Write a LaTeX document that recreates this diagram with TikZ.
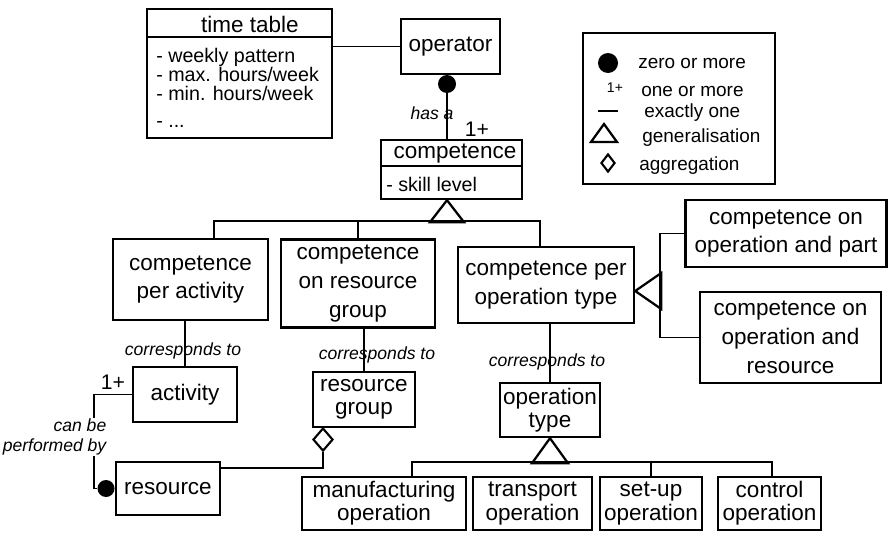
\documentclass[tikz,border=0pt]{standalone}
\usepackage{fontspec}
\setmainfont{Liberation Sans}
\usepackage{tikz}
\usetikzlibrary{shapes.geometric}
\newcommand{\upx}{0.025cm}
\newcommand{\clsfont}{\fontsize{16}{20.5}\selectfont}
\newcommand{\subfont}{\fontsize{16}{16.5}\selectfont}

\begin{document}
\begin{tikzpicture}[x=0.025cm, y=-0.025cm,
  cls/.style 2 args={draw, line width=1.7pt, inner sep=0pt, align=center,
    font=\clsfont, minimum width=#1*\upx, minimum height=#2*\upx},
  con/.style={line width=1.4pt},
  gen/.style={line width=1.6pt, line join=miter},
  ball/.style={circle, fill, inner sep=0pt, minimum size=#1*\upx},
  agg/.style 2 args={diamond, draw, line width=1.5pt, inner sep=0pt,
    minimum width=#1*\upx, minimum height=#2*\upx},
  note/.style={font=\fontsize{12.5}{14}\selectfont\itshape},
  mult/.style={font=\fontsize{15}{15}\selectfont},
  attr/.style={font=\fontsize{14}{13.5}\selectfont, align=left, inner sep=0pt},
  key/.style={font=\fontsize{13.5}{14}\selectfont, anchor=west, inner sep=0pt}]
  \useasboundingbox (0,0) rectangle (888,533);
   \coordinate (BarL) at (214,221);
   \coordinate (BarR) at (540,221);
   \coordinate (GenR) at (660,291);
   \coordinate (PerfX) at (94,440);
   \coordinate (AggBend) at (323,468);
   \coordinate (OpBarL) at (412,462);
   \coordinate (OpBarR) at (772,462);
  % upper classes
  \node[cls={185}{129}] (Tt) at (239.5,73.5) {};
  \node[font=\clsfont] (TtName) at (250,24) {time table};
  \node[attr, anchor=north west] (TtAttr) at (156,48)
       {- weekly pattern\\- max. hours/week\\- min. hours/week\\[6pt]- ...};
  \draw[line width=1.7pt] (Tt.north west) ++(0,29) -- ++(185,0);
  \node[cls={99}{55}] (Optr) at (450.5,46.5) {operator};
  \node[cls={141}{59}] (Comp) at (451.5,169.5) {};
  \node[font=\clsfont] (CompName) at (455,154) {competence};
  \node[attr, anchor=west] (CompAttr) at (386,184) {- skill level};
  \draw[line width=1.7pt] (Comp.north west) ++(0,27) -- ++(141,0);
  \node[cls={192}{151}] (Leg) at (679,108.5) {};
  % kinds of competence
  \node[cls={155}{81}] (Cact) at (190.5,279.5) {competence\\per activity};
  \node[cls={154}{88}] (Crg) at (358,283.5) {competence\\on resource\\group};
  \node[cls={176}{76}] (Cop) at (546,285) {competence per\\operation type};
  \node[cls={201}{67}] (Cpart) at (786,233.5) {competence on\\operation and part};
  \node[cls={181}{91}] (Cres) at (790.5,337.5) {competence on\\operation and\\resource};
  % lower classes
  \node[cls={104}{55}] (Act) at (185,394.5) {activity};
  \node[cls={102}{55}, font=\subfont] (Rg) at (364,399.5) {resource\\group};
  \node[cls={100}{54}, font=\subfont] (Ot) at (550,410) {operation\\type};
  \node[cls={104}{53}] (Res) at (168,488.5) {resource};
  \foreach \n/\x/\w/\t in {Mo/384/164/manufacturing,To/532.5/119/transport,%
                           So/651/102/set-up,Co/769.5/103/control}{%
    \node[cls={\w}{53}, font=\subfont] (\n) at (\x,503.5) {\t\\operation};
  }
  % operator side
  \draw[con] (Optr.west) -- (Optr.west -| Tt.east);
  \node[ball=18] (Dot1) at (447,84) {};
  \draw[con] (Dot1) -- (Dot1 |- Comp.north);
  \node[note] (HasA) at (432,113) {has a};
  \node[mult] (HasMult) at (477,129) {1+};
  % generalisations
  \draw[gen] (Dot1 |- Comp.south) -- ++(-17,22) -- ++(34,0) -- cycle;
  \draw[con] (Cact.north -| BarL) -- (BarL) -- (BarR) -- (Cop.north -| BarR);
  \draw[con] (Crg.north) -- (Crg.north |- BarL);
  \draw[gen] (Cop.east |- GenR) -- ++(26,-18) -- ++(0,36) -- cycle;
  \draw[con] (Cpart.west) -- (Cpart.west -| GenR) -- (Cres.west -| GenR) -- (Cres.west);
  \draw[gen] (Ot.south) -- ++(-18,25) -- ++(36,0) -- cycle;
  \draw[con] (Mo.north -| OpBarL) -- (OpBarL) -- (OpBarR) -- (Co.north -| OpBarR);
  \draw[con] (So.north) -- (So.north |- OpBarL);
  % corresponds to
  \draw[con] (Act.north) -- (Act.north |- Cact.south);
  \node[note] (Corr1) at (183,351) {corresponds to};
  \draw[con] (Rg.north) -- (Rg.north |- Crg.south);
  \node[note] (Corr2) at (377,355) {corresponds to};
  \draw[con] (Ot.north) -- (Ot.north |- Cop.south);
  \node[note] (Corr3) at (547,362) {corresponds to};
  % activity -- resource
  \node[ball=17, anchor=east] (Dot2) at (Res.west) {};
  \draw[con] (Act.west) -- (Act.west -| PerfX) -- (Dot2 -| PerfX) -- (Dot2);
  \node[mult] (ActMult) at (113,382) {1+};
  \node[note, fill=white, align=right, anchor=east, inner sep=1pt] (Perf) at (108,437)
       {can be\\performed by};
  % resource group aggregates resources
  \node[agg={20}{23}, anchor=north] (Agg) at (323,427) {};
  \draw[con] (Agg.south) -- (AggBend) -- (AggBend -| Res.east);
  % legend
  \node[ball=20] (KeyBall) at (608,63) {};
  \node[key] (KeyZero) at (638,63) {zero or more};
  \node[font=\fontsize{10}{10}\selectfont] (KeyOneSym) at (615,88) {1+};
  \node[key] (KeyOne) at (641,91) {one or more};
  \draw[con] (598,111) -- (618,111);
  \node[key] (KeyExact) at (644,113) {exactly one};
  \draw[gen] (604,124) -- ++(-13,18) -- ++(26,0) -- cycle;
  \node[key] (KeyGen) at (642,138) {generalisation};
  \node[agg={14}{18}] (KeyAgg) at (608,163) {};
  \node[key] (KeyAggr) at (639,166) {aggregation};
\end{tikzpicture}
\end{document}
